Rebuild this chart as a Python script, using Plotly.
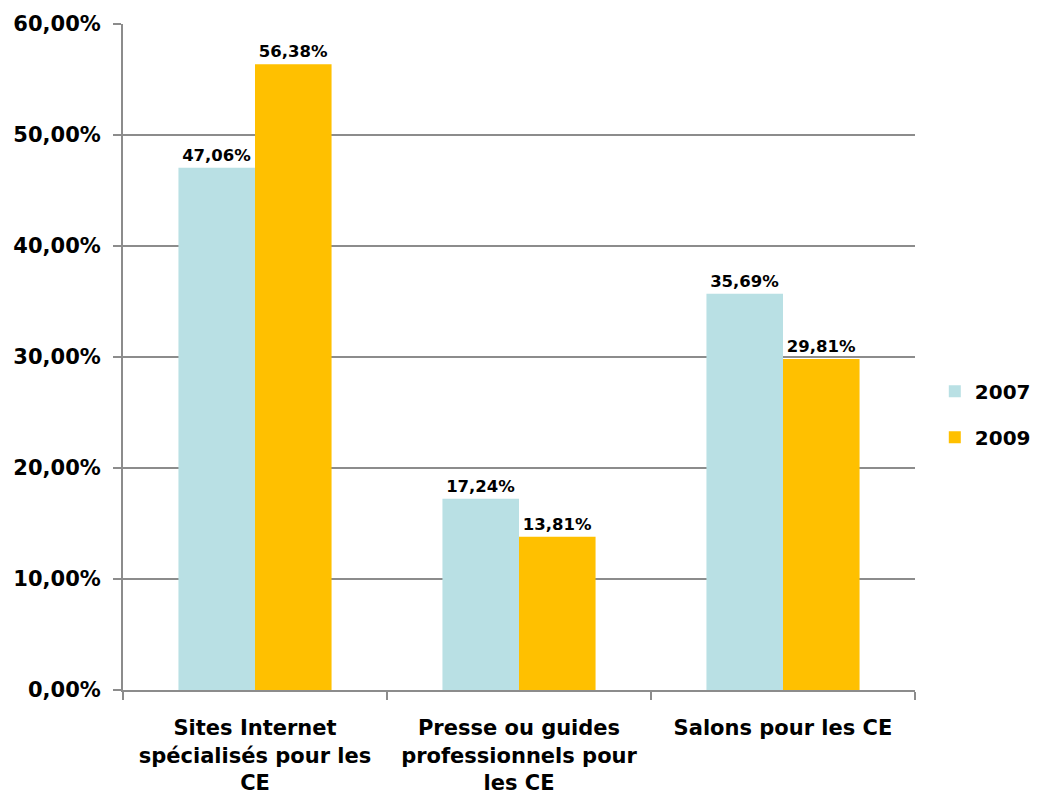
import plotly.graph_objects as go

categories = ["Sites Internet<br>spécialisés pour les<br>CE",
              "Presse ou guides<br>professionnels pour<br>les CE",
              "Salons pour les CE"]
series_names = ["2007", "2009"]
values_2007 = [0.4706, 0.1724, 0.3569]
values_2009 = [0.5638, 0.1381, 0.2981]
colors = ["#B9E0E4", "#FFC000"]

FONT = "DejaVu Sans"

fig = go.Figure()
for name, vals, col in zip(series_names, [values_2007, values_2009], colors):
    fig.add_trace(go.Bar(
        name=name, x=categories, y=vals, marker=dict(color=col, line=dict(width=0)),
        legendgroup=name,
        text=[f"{v*100:.2f}%".replace(".", ",") for v in vals],
        textposition="outside", cliponaxis=False,
        textfont=dict(family=FONT, size=16.5, color="black", weight="bold"),
    ))

fig.update_layout(
    width=1039, height=800,
    margin=dict(l=115, r=132, t=16, b=118, autoexpand=False),
    paper_bgcolor="white", plot_bgcolor="white",
    barmode="group", bargap=0.42, bargroupgap=0,
    separators=", ",
    font=dict(family=FONT, size=20, color="black", weight="bold"),
    showlegend=True,
    legend=dict(x=1.025, y=0.414, xanchor="left", yanchor="middle",
                bgcolor="rgba(0,0,0,0)", borderwidth=0,
                font=dict(family=FONT, size=20, weight="bold"), itemwidth=30,
                traceorder="grouped", tracegroupgap=17),
)
fig.update_yaxes(range=[0, 0.6], dtick=0.1, tickformat=".2%",
                 showgrid=True, gridcolor="#8C8C8C", gridwidth=2,
                 showline=True, linecolor="#8C8C8C", linewidth=2,
                 ticks="outside", ticklen=8, tickcolor="#8C8C8C", tickwidth=2,
                 ticklabelstandoff=8,
                 zeroline=False,
                 tickfont=dict(family=FONT, size=21, weight="bold"))
fig.update_xaxes(showline=True, linecolor="#8C8C8C", linewidth=2,
                 ticks="outside", tickson="boundaries", ticklen=8,
                 tickcolor="#8C8C8C", tickwidth=2,
                 ticklabelstandoff=18,
                 tickfont=dict(family=FONT, size=21, weight="bold"))

fig.write_html("out.html")
